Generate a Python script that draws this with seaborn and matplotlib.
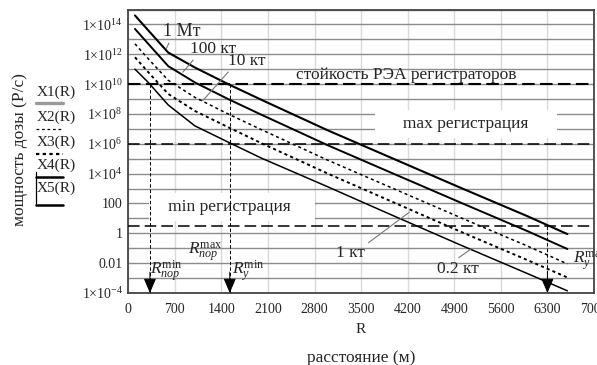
import numpy as np
import pandas as pd
import matplotlib
matplotlib.use("Agg")
import matplotlib.pyplot as plt
import seaborn as sns
from matplotlib.lines import Line2D

# ---------------- data ----------------
R_m = [100, 300, 600, 1000, 1500, 2000, 3000, 4000, 5000, 6000, 6600]
dose_1Mt = [4.0e14, 4.0e13, 1.3e12, 1.3e11, 1.0e10, 8.9e8, 7.9e6, 9.3e4, 1.1e3, 14, 0.89]
dose_100kt = [5.0e13, 5.0e12, 1.6e11, 1.3e10, 1.0e9, 8.9e7, 7.9e5, 9.3e3, 112, 1.4, 0.089]
dose_10kt = [5.0e12, 5.0e11, 1.8e10, 1.3e9, 1.0e8, 8.9e6, 7.9e4, 930, 11, 0.14, 0.0089]
dose_1kt = [6.3e11, 6.3e10, 2.2e9, 1.6e8, 1.3e7, 1.1e6, 1.0e4, 112, 1.26, 0.016, 0.0011]
dose_02kt = [1.0e11, 1.3e10, 4.0e8, 1.6e7, 1.3e6, 1.1e5, 1.3e3, 14, 0.16, 0.002, 1.4e-4]

series_names = ["1 Мт", "100 кт", "10 кт", "1 кт", "0.2 кт"]
legend_names = ["X1(R)", "X2(R)", "X3(R)", "X4(R)", "X5(R)"]

x_ticks = [0, 700, 1400, 2100, 2800, 3500, 4200, 4900, 5600, 6300, 7000]
y_ticks = [1e14, 1e12, 1e10, 1e8, 1e6, 1e4, 100, 1, 0.01, 1e-4]
y_tick_labels = [r"$1{\times}10^{14}$", r"$1{\times}10^{12}$", r"$1{\times}10^{10}$",
                 r"$1{\times}10^{8}$", r"$1{\times}10^{6}$", r"$1{\times}10^{4}$",
                 "100", "1", "0.01", r"$1{\times}10^{-4}$"]
y_minor = [1e15, 1e13, 1e11, 1e9, 1e7, 1e5, 1e3, 10, 0.1, 1e-3]

resist_level = 1e10      # стойкость РЭА
max_reg_level = 1e6
min_reg_level = 3
R_por_min = 325
R_y_min = 1525
R_y_max = 6300

# ---------------- style ----------------
sns.set_style("white")
plt.rcParams["font.family"] = ["Liberation Serif", "DejaVu Serif"]
plt.rcParams["mathtext.fontset"] = "custom"
plt.rcParams["mathtext.rm"] = "Liberation Serif"
plt.rcParams["mathtext.it"] = "Liberation Serif:italic"
plt.rcParams["mathtext.bf"] = "Liberation Serif:bold"

W, H = 597, 365
fig = plt.figure(figsize=(W / 100, H / 100), dpi=100)
ax = fig.add_axes([128.3 / W, (H - 293) / H, (594 - 128.3) / W, (293 - 9.5) / H])
ax.set_yscale("log")

df = pd.DataFrame({
    "R": R_m * 5,
    "dose": dose_1Mt + dose_100kt + dose_10kt + dose_1kt + dose_02kt,
    "series": sum([[n] * len(R_m) for n in series_names], []),
})

styles = {
    "1 Мт": dict(lw=1.5, ls="-"),
    "100 кт": dict(lw=1.4, ls="-"),
    "10 кт": dict(lw=1.1, ls=(0, (2.0, 2.0))),
    "1 кт": dict(lw=1.4, ls=(0, (1.6, 1.6))),
    "0.2 кт": dict(lw=1.1, ls="-"),
}
for name in series_names:
    sub = df[df["series"] == name]
    sns.lineplot(data=sub, x="R", y="dose", ax=ax, color="black",
                 linewidth=styles[name]["lw"], linestyle=styles[name]["ls"],
                 zorder=4, legend=False)

# threshold dashed lines
ax.axhline(resist_level, color="black", lw=1.5, dashes=(6, 2.6), zorder=3)
ax.axhline(max_reg_level, color="black", lw=1.1, dashes=(7.6, 3.3), zorder=3)
ax.axhline(min_reg_level, color="black", lw=1.1, dashes=(7.6, 3.3), zorder=3)

# vertical marker lines with arrow heads
for xr, ytop in [(R_por_min, resist_level), (R_y_min, resist_level), (R_y_max, min_reg_level)]:
    ax.plot([xr, xr], [ytop, 1e-4], color="black", lw=0.7, dashes=(3.5, 2.2), zorder=3)
    ax.annotate("", xy=(xr, 1e-4), xytext=(xr, 2.5e-3),
                arrowprops=dict(arrowstyle="-|>,head_length=0.75,head_width=0.32",
                                color="black", lw=0.7, shrinkA=0, shrinkB=0,
                                mutation_scale=12), zorder=5)

# axes, ticks, grid
ax.set_xlim(0, 7000)
ax.set_ylim(1e-4, 1e15)
ax.set_xticks(x_ticks)
ax.set_xticklabels([str(t) for t in x_ticks], fontsize=10)
ax.set_yticks(y_ticks)
ax.set_yticklabels(y_tick_labels, fontsize=10)
ax.set_yticks(y_minor, minor=True)
ax.yaxis.set_minor_formatter(matplotlib.ticker.NullFormatter())
ax.tick_params(axis="both", which="both", length=0)
ax.tick_params(axis="x", pad=7)
ax.tick_params(axis="y", pad=4)
ax.yaxis.grid(True, which="both", color="#8c8c8c", lw=1.0, zorder=1)
ax.xaxis.grid(True, which="major", color="#dadada", lw=1.0, zorder=1)
ax.set_axisbelow(True)
for sp in ax.spines.values():
    sp.set_color("#444444")
    sp.set_linewidth(1.3)

ax.set_xlabel("R", fontsize=11, labelpad=5)
ax.set_ylabel("")

# curve labels with leader lines
lead = dict(arrowstyle="-", color="#777777", lw=0.8, shrinkA=0, shrinkB=0)
ax.annotate("1 Мт", xy=(570, 2.3e12), xytext=(520, 9.3e12), ha="left", va="bottom",
            fontsize=13, arrowprops=dict(lead, relpos=(0.2, 0)), zorder=6)
ax.annotate("100 кт", xy=(820, 6.3e10), xytext=(921, 6.8e11), ha="left", va="bottom",
            fontsize=12.5, arrowprops=dict(lead, relpos=(0.14, 0)), zorder=6)
ax.annotate("10 кт", xy=(1120, 7.9e8), xytext=(1495, 1.07e11), ha="left", va="bottom",
            fontsize=12.5, arrowprops=dict(lead, relpos=(0.09, 0)), zorder=6)
ax.annotate("1 кт", xy=(4225, 26), xytext=(3126, 0.16), ha="left", va="top",
            fontsize=12.5, arrowprops=dict(lead, relpos=(1, 1)), zorder=6)
ax.annotate("0.2 кт", xy=(5151, 0.089), xytext=(4646, 0.014), ha="left", va="top",
            fontsize=12.5, arrowprops=dict(lead, relpos=(0.4, 1)), zorder=6)

# region labels
ax.text(4171, 1.1e10, "стойкость РЭА регистраторов", ha="center", va="bottom",
        fontsize=12.5, zorder=6)
ax.text(5076, 2.2e7, "     max регистрация     ", ha="center", va="center", fontsize=12.5,
        bbox=dict(boxstyle="square,pad=0.35", fc="white", ec="none"), zorder=2.5)
ax.text(1560, 60, "   min регистрация    ", ha="center", va="center", fontsize=12.5,
        bbox=dict(boxstyle="square,pad=0.35", fc="white", ec="none"), zorder=2.5)

# R markers labels
ax.text(327, 3.0e-3, r"$R_{пор}^{\mathrm{min}}$", ha="left", va="center", fontsize=12.5, zorder=6)
ax.text(896, 5.6e-2, r"$R_{пор}^{\mathrm{max}}$", ha="left", va="center", fontsize=12.5, zorder=6)
ax.text(1555, 3.0e-3, r"$R_{y}^{\mathrm{min}}$", ha="left", va="center", fontsize=12.5, zorder=6)
ax.text(6680, 1.4e-2, r"$R_{y}^{\mathrm{max}}$", ha="left", va="center", fontsize=12.5,
        zorder=6, clip_on=False)

# axis titles
fig.text(20 / W, 1 - 150 / H, "мощность дозы (Р/с)", rotation=90, ha="center",
         va="center", fontsize=12.5)
fig.text(361 / W, 1 - 358 / H, "расстояние (м)", ha="center", va="center", fontsize=12.5)

# Mathcad-style trace legend on the left
leg_label_y = [92, 117, 142, 165, 188]
leg_line_y = [103, 129, 154, 177, 205]
leg_styles = [
    dict(color="#9a9a9a", lw=2.4, ls="-"),
    dict(color="black", lw=0.9, ls=(0, (2.2, 2.2))),
    dict(color="black", lw=1.6, ls=(0, (1.5, 1.5))),
    dict(color="black", lw=1.8, ls="-"),
    dict(color="black", lw=1.8, ls="-"),
]
for lab, ly, lny, st in zip(legend_names, leg_label_y, leg_line_y, leg_styles):
    fig.text(56 / W, 1 - ly / H, lab, ha="center", va="center", fontsize=11)
    fig.add_artist(Line2D([36 / W, 63 / W], [1 - lny / H, 1 - lny / H],
                          color=st["color"], lw=st["lw"], linestyle=st["ls"]))
fig.add_artist(Line2D([36 / W, 36 / W], [1 - 172 / H, 1 - 205 / H], color="black", lw=0.9))

fig.savefig("out.png", dpi=100)
